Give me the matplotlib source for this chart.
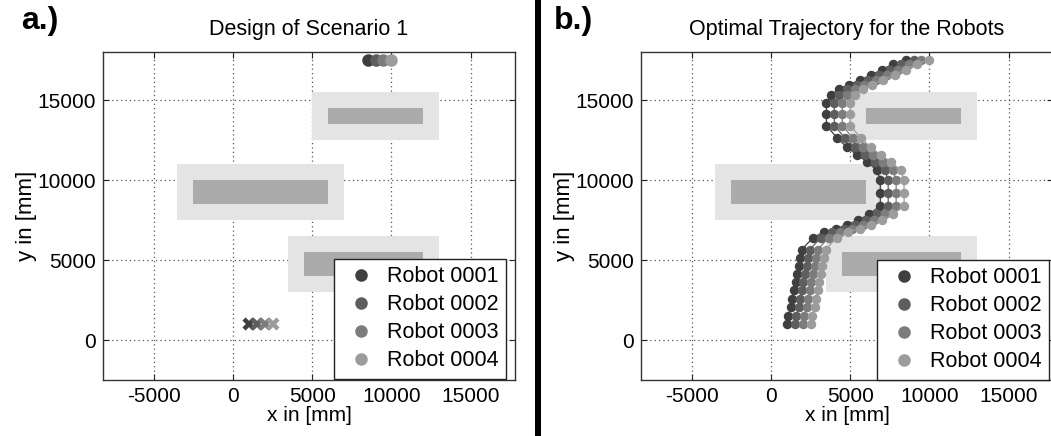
import matplotlib
matplotlib.use("Agg")
import matplotlib.pyplot as plt
from matplotlib.patches import Rectangle
from matplotlib.lines import Line2D

plt.rcParams['font.family'] = ['Liberation Sans', 'DejaVu Sans']
plt.rcParams['axes.unicode_minus'] = False

# ---------------- data ----------------
robot_names = ["Robot 0001", "Robot 0002", "Robot 0003", "Robot 0004"]
robot_colors = ["#3f3f3f", "#5e5e5e", "#7c7c7c", "#9c9c9c"]

start_x = [1000, 1500, 2000, 2500]
start_y = [1000, 1000, 1000, 1000]
goal_x = [8500, 9000, 9500, 10000]
goal_y = [17500, 17500, 17500, 17500]

# obstacles: inner (dark) and safety margin (light)
inner_x0 = [4500, -2500, 6000]
inner_x1 = [12000, 6000, 12000]
inner_y0 = [4000, 8500, 13500]
inner_y1 = [5500, 10000, 14500]
outer_x0 = [3500, -3500, 5000]
outer_x1 = [13000, 7000, 13000]
outer_y0 = [3000, 7500, 12500]
outer_y1 = [6500, 11000, 15500]

# optimal trajectories (panel b)
traj_y = [1000, 1500, 2050, 2550, 3100, 3600, 4100, 4650, 5150, 5650,
          6400, 6750, 6950, 7200, 7500, 7850,
          8400, 9200, 10000,
          10600, 11150, 11550, 12050, 12600,
          13400, 14100, 14800,
          15300, 15700, 15950, 16250, 16550, 16900, 17250, 17500]
traj_x1 = [1000, 1100, 1250, 1350, 1450, 1550, 1650, 1750, 1850, 1950,
           2650, 3350, 4100, 4800, 5500, 6200,
           6900, 6900, 6900,
           6700, 6050, 5450, 4800, 4200,
           3500, 3500, 3500,
           3800, 4300, 4900, 5600, 6300, 7000, 7700, 8500]
traj_x2 = [1500, 1600, 1750, 1850, 1950, 2050, 2150, 2250, 2350, 2450,
           3150, 3850, 4600, 5300, 6000, 6700,
           7400, 7400, 7400,
           7200, 6550, 5950, 5300, 4700,
           4000, 4000, 4000,
           4300, 4800, 5400, 6100, 6800, 7500, 8200, 9000]
traj_x3 = [2000, 2100, 2250, 2350, 2450, 2550, 2650, 2750, 2850, 2950,
           3650, 4350, 5100, 5800, 6500, 7200,
           7900, 7900, 7900,
           7700, 7050, 6450, 5800, 5200,
           4500, 4500, 4500,
           4800, 5300, 5900, 6600, 7300, 8000, 8700, 9500]
traj_x4 = [2500, 2600, 2750, 2850, 2950, 3050, 3150, 3250, 3350, 3450,
           4150, 4850, 5600, 6300, 7000, 7700,
           8400, 8400, 8400,
           8200, 7550, 6950, 6300, 5700,
           5000, 5000, 5000,
           5300, 5800, 6400, 7100, 7800, 8500, 9200, 10000]
traj_x = [traj_x1, traj_x2, traj_x3, traj_x4]

x_ticks = [-5000, 0, 5000, 10000, 15000]
y_ticks = [0, 5000, 10000, 15000]

# ---------------- figure ----------------
W, H = 1051, 436
fig = plt.figure(figsize=(W / 100, H / 100), dpi=100)


def fx(px):
    return px / W


def fy(py):
    return 1 - py / H


def setup_axes(ax, title):
    ax.set_xlim(-8200, 17800)
    ax.set_ylim(-2500, 18000)
    ax.set_xticks(x_ticks)
    ax.set_yticks(y_ticks)
    ax.set_axisbelow(True)
    ax.grid(True, color="#555555", linestyle=(0, (1, 2.5)), linewidth=0.9)
    ax.tick_params(direction="in", length=4, top=True, right=True,
                   labelsize=15, colors="#222222", labelcolor="black", pad=5)
    for s in ax.spines.values():
        s.set_color("#333333")
        s.set_linewidth(1.0)
    ax.set_title(title, fontsize=15.5, pad=12)
    ax.set_xlabel("x in [mm]", fontsize=15, labelpad=0)
    ax.set_ylabel("y in [mm]", fontsize=16, labelpad=0)
    for i in range(len(outer_x0)):
        ax.add_patch(Rectangle((outer_x0[i], outer_y0[i]), outer_x1[i] - outer_x0[i],
                               outer_y1[i] - outer_y0[i], facecolor="#e4e4e4",
                               edgecolor="none", zorder=1))
        ax.add_patch(Rectangle((inner_x0[i], inner_y0[i]), inner_x1[i] - inner_x0[i],
                               inner_y1[i] - inner_y0[i], facecolor="#ababab",
                               edgecolor="none", zorder=1.5))


def add_legend(ax, right_px, bottom_px):
    handles = [Line2D([], [], linestyle="none", marker="o", markersize=8,
                      markerfacecolor=c, markeredgecolor=c) for c in robot_colors]
    leg = ax.legend(handles, robot_names, loc="lower right",
                    bbox_to_anchor=(fx(right_px), fy(bottom_px)),
                    bbox_transform=fig.transFigure, fontsize=15.5,
                    frameon=True, fancybox=False, framealpha=1,
                    edgecolor="#222222", borderaxespad=0, borderpad=0.35,
                    handletextpad=0.3, labelspacing=0.33, handlelength=1.8)
    leg.get_frame().set_linewidth(1.0)
    leg.set_zorder(10)


# panel a
axA = fig.add_axes([fx(103), fy(380), fx(412), 328 / H])
setup_axes(axA, "Design of Scenario 1")
for i in range(4):
    axA.plot(goal_x[i], goal_y[i], linestyle="none", marker="o", markersize=8,
             color=robot_colors[i], zorder=3, clip_on=False)
    axA.plot(start_x[i], start_y[i], linestyle="none", marker="x", markersize=7.5,
             markeredgewidth=3.2, color=robot_colors[i], zorder=3)
add_legend(axA, 506, 379)

# panel b
axB = fig.add_axes([fx(641), fy(380), fx(412), 328 / H])
setup_axes(axB, "Optimal Trajectory for the Robots")
for i in range(4):
    axB.plot(traj_x[i], traj_y, linestyle="-", linewidth=0.9, marker="o",
             markersize=5.8, color=robot_colors[i], zorder=3 + i, clip_on=False)
add_legend(axB, 1049, 380)

# panel labels and divider
fig.text(fx(21), fy(21), "a.)", fontsize=23, fontweight="bold", va="center", ha="left")
fig.text(fx(554), fy(21), "b.)", fontsize=23, fontweight="bold", va="center", ha="left")
fig.add_artist(Rectangle((fx(535), 0), fx(6), 1, transform=fig.transFigure,
                         facecolor="black", edgecolor="none"))

fig.savefig("out.png", dpi=100)
